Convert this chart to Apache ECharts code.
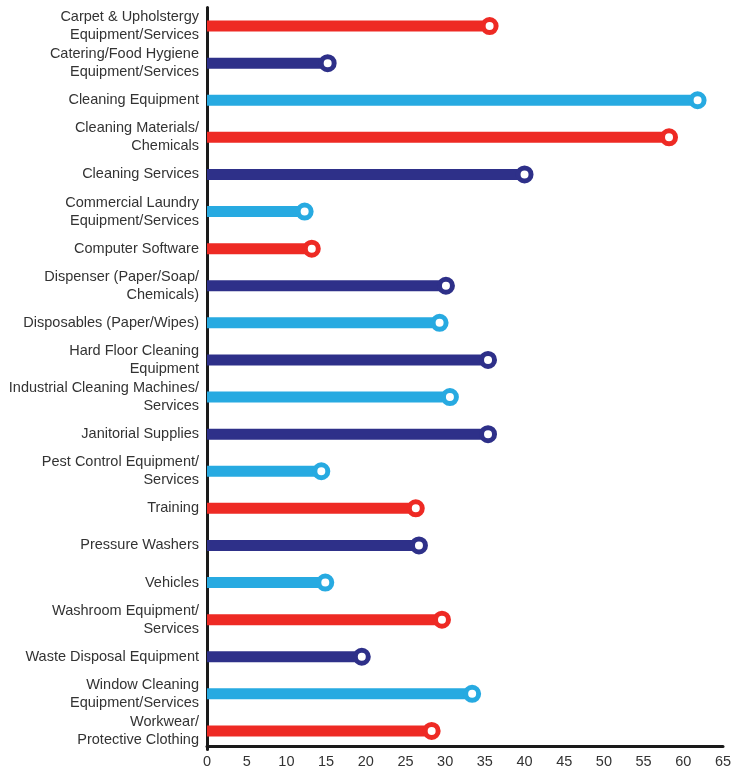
<!DOCTYPE html>
<html><head><meta charset="utf-8">
<script src="https://cdn.jsdelivr.net/npm/echarts@6/dist/echarts.min.js"></script>
<style>html,body{margin:0;padding:0;background:#fff}#c{width:745px;height:769px}</style>
</head><body><div id="c"></div>
<script>
const categories = [
  "Carpet & Upholstergy\nEquipment/Services",
  "Catering/Food Hygiene\nEquipment/Services",
  "Cleaning Equipment",
  "Cleaning Materials/\nChemicals",
  "Cleaning Services",
  "Commercial Laundry\nEquipment/Services",
  "Computer Software",
  "Dispenser (Paper/Soap/\nChemicals)",
  "Disposables (Paper/Wipes)",
  "Hard Floor Cleaning\nEquipment",
  "Industrial Cleaning Machines/\nServices",
  "Janitorial Supplies",
  "Pest Control Equipment/\nServices",
  "Training",
  "Pressure Washers",
  "Vehicles",
  "Washroom Equipment/\nServices",
  "Waste Disposal Equipment",
  "Window Cleaning\nEquipment/Services",
  "Workwear/\nProtective Clothing"
];
const values = [35.6, 15.2, 61.8, 58.2, 40.0, 12.3, 13.2, 30.1, 29.3, 35.4, 30.6, 35.4, 14.4, 26.3, 26.7, 14.9, 29.6, 19.5, 33.4, 28.3];
const colorKeys = ["r","n","b","r","n","b","r","n","b","n","b","n","b","r","n","b","r","n","b","r"];
const xTicks = [0, 65, 5];

const palette = {r: "#EE2A24", n: "#2E3089", b: "#27AAE1"};
const font = "'Liberation Sans', sans-serif";

const chart = echarts.init(document.getElementById('c'));
chart.setOption({
  animation: false,
  grid: {left: 207, right: 22, top: 7.5, bottom: 19.5, containLabel: false},
  xAxis: {
    type: 'value', min: xTicks[0], max: xTicks[1], interval: xTicks[2], offset: -3.5,
    axisLine: {show: true, lineStyle: {color: '#1a1a1a', width: 3}},
    axisTick: {show: false}, splitLine: {show: false},
    axisLabel: {color: '#333', fontSize: 14.5, fontFamily: font, margin: 8}
  },
  yAxis: {
    type: 'category', data: categories, inverse: true,
    axisLine: {show: true, lineStyle: {color: '#1a1a1a', width: 3}},
    axisTick: {show: false},
    axisLabel: {color: '#333', fontSize: 14.5, fontFamily: font, margin: 8, lineHeight: 18, align: 'right'}
  },
  series: [
    {
      type: 'bar', barWidth: 11, z: 2,
      data: values.map((v, i) => ({value: v, itemStyle: {color: palette[colorKeys[i]]}}))
    },
    {
      type: 'scatter', symbol: 'circle', symbolSize: 13, z: 3,
      data: values.map((v, i) => ({value: [v, i], itemStyle: {color: '#fff', opacity: 1, borderColor: palette[colorKeys[i]], borderWidth: 5}}))
    }
  ]
});
</script></body></html>
